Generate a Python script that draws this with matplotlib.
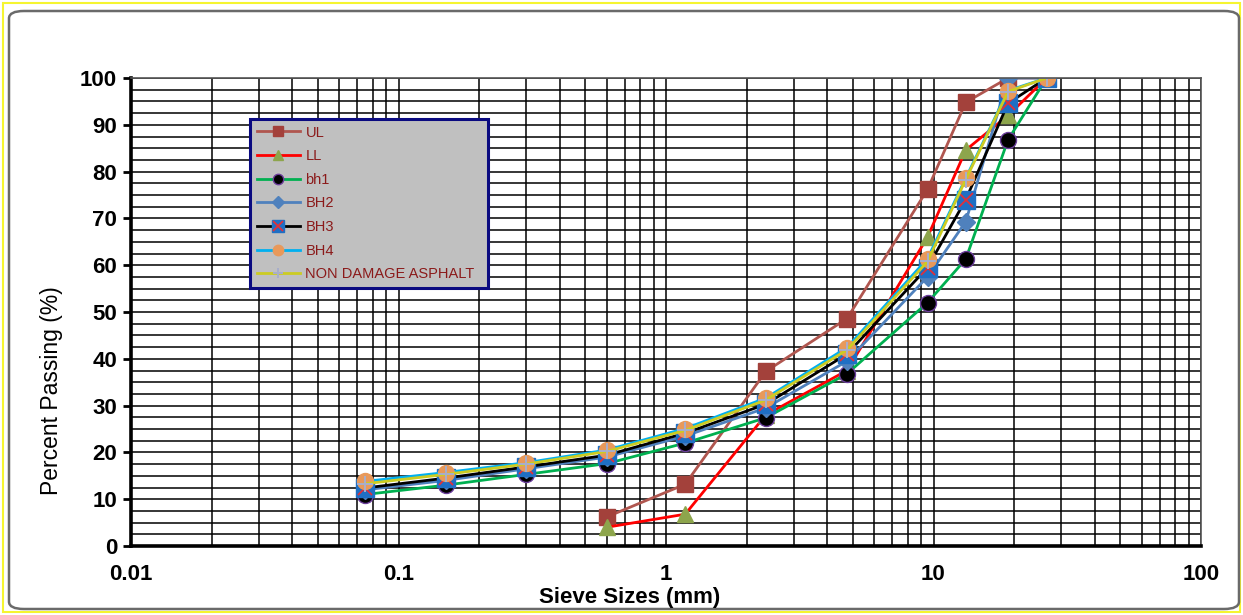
import matplotlib
matplotlib.use("Agg")
import matplotlib.pyplot as plt
from matplotlib.ticker import MultipleLocator, FixedLocator, LogLocator, NullFormatter
from matplotlib.patches import FancyBboxPatch, Rectangle
from matplotlib.legend_handler import HandlerTuple

# Sieve sizes (mm) and percent passing for each gradation
sieve_mm = [0.075, 0.15, 0.3, 0.6, 1.18, 2.36, 4.75, 9.5, 13.2, 19.0, 26.5]
spec_sieves = [0.6, 1.18, 2.36, 4.75, 9.5, 13.2, 19.0, 26.5]

ul = [6.2, 13.2, 37.3, 48.6, 76.2, 94.8, 100.0, 100.0]
ll = [4.0, 6.8, 28.0, 37.5, 66.0, 84.6, 92.0, 100.0]
bh1 = [11.0, 13.0, 15.3, 17.6, 22.0, 27.4, 36.8, 52.0, 61.3, 86.8, 100.0]
bh2 = [12.0, 14.0, 16.5, 19.0, 23.5, 29.5, 39.5, 57.5, 69.3, 100.0, 100.0]
bh3 = [12.4, 14.5, 16.9, 19.4, 24.1, 30.3, 41.0, 59.5, 74.0, 94.6, 100.0]
bh4 = [13.8, 15.7, 17.8, 20.5, 25.1, 31.6, 42.4, 61.4, 78.6, 97.3, 100.0]
non_damage = [13.3, 15.3, 17.5, 20.2, 24.7, 31.2, 41.9, 60.8, 78.3, 97.1, 100.0]

x_tick_values = [0.01, 0.1, 1, 10, 100]
x_tick_labels = ["0.01", "0.1", "1", "10", "100"]
y_tick_values = list(range(0, 101, 10))

W, H = 1243, 615
fig = plt.figure(figsize=(W / 100, H / 100), dpi=100)
fig.patch.set_facecolor("white")

# outer yellow edge and rounded chart frame
fig.patches.append(Rectangle((3 / W, 3 / H), 1 - 6 / W, 1 - 6 / H, transform=fig.transFigure,
                             fill=False, edgecolor="#F5F530", lw=1.5))
fig.patches.append(FancyBboxPatch((9 / W, 6 / H), 1 - 13 / W, 1 - 17 / H,
                                  boxstyle="round,pad=0,rounding_size=0.012",
                                  transform=fig.transFigure, fill=False,
                                  edgecolor="#6A6A6A", lw=1.8))

left, right, top, bottom = 131, 1201, 78, 546
ax = fig.add_axes([left / W, 1 - bottom / H, (right - left) / W, (bottom - top) / H])

ax.set_xscale("log")
ax.set_xlim(0.01, 100)
ax.set_ylim(0, 100)

ax.xaxis.set_major_locator(FixedLocator(x_tick_values))
ax.set_xticklabels(x_tick_labels)
ax.xaxis.set_minor_locator(LogLocator(base=10, subs=range(2, 10)))
ax.xaxis.set_minor_formatter(NullFormatter())
ax.yaxis.set_major_locator(FixedLocator(y_tick_values))
ax.yaxis.set_minor_locator(MultipleLocator(2.5))

ax.grid(which="both", axis="both", color="black", lw=1.1)
ax.set_axisbelow(True)

for lab in ax.get_xticklabels() + ax.get_yticklabels():
    lab.set_fontfamily("Liberation Sans")
    lab.set_fontweight("bold")
    lab.set_fontsize(16)
ax.tick_params(axis="x", which="both", length=0, pad=13)
ax.tick_params(axis="y", which="major", length=6, width=2, pad=4, direction="out")
ax.tick_params(axis="y", which="minor", length=0)

for side in ("left", "bottom"):
    ax.spines[side].set_linewidth(2.6)
    ax.spines[side].set_color("black")
for side in ("top", "right"):
    ax.spines[side].set_linewidth(1.2)
    ax.spines[side].set_color("#555555")

lw = 2.0
h_ul, = ax.plot(spec_sieves, ul, color="#B0564F", lw=lw, marker="s", ms=11.5,
                mfc="#A3413B", mec="#A3413B", label="UL")
h_ll, = ax.plot(spec_sieves, ll, color="#FF0000", lw=lw, marker="^", ms=12,
                mfc="#8DA54C", mec="#8DA54C", label="LL")
h_bh1, = ax.plot(sieve_mm, bh1, color="#00B050", lw=lw, marker="o", ms=11.5,
                 mfc="black", mec="#6A3D9A", mew=1.0, label="bh1")
h_bh2, = ax.plot(sieve_mm, bh2, color="#4F81BD", lw=lw, marker="D", ms=9,
                 mfc="#4F81BD", mec="#4F81BD", label="BH2")
h_bh3, = ax.plot(sieve_mm, bh3, color="black", lw=lw, marker="s", ms=12.5,
                 mfc="#1F6FC4", mec="#1F6FC4", label="BH3")
h_bh3x, = ax.plot(sieve_mm, bh3, ls="none", marker="x", ms=10, mec="#E0303A", mew=1.3)
h_bh4, = ax.plot(sieve_mm, bh4, color="#00B0F0", lw=lw, marker="o", ms=11.5,
                 mfc="#E8995A", mec="#E8995A", label="BH4")
h_nd, = ax.plot(sieve_mm, non_damage, color="#CCCC22", lw=lw, marker="+", ms=12,
                mec="#A8AECB", mew=1.4, label="NON DAMAGE ASPHALT")

handles = [h_ul, h_ll, h_bh1, h_bh2, (h_bh3, h_bh3x), h_bh4, h_nd]
labels = ["UL", "LL", "bh1", "BH2", "BH3", "BH4", "NON DAMAGE ASPHALT"]
x0 = (250 - left) / (right - left)
y1 = (bottom - 119) / (bottom - top)
y0 = (bottom - 290) / (bottom - top)
leg = ax.legend(handles, labels, loc="upper left",
                bbox_to_anchor=(x0, y0, (488 - 250) / (right - left), y1 - y0),
                mode="expand", borderaxespad=0, fancybox=False, framealpha=1,
                facecolor="#C0C0C0", edgecolor="#0A0A80", handlelength=3.0,
                handletextpad=0.35, labelspacing=0.66, borderpad=0.45,
                prop=dict(family="Liberation Sans", size=10.5),
                handler_map={tuple: HandlerTuple(ndivide=1, pad=0)},
                markerscale=0.65)
leg.get_frame().set_linewidth(2.2)
for t in leg.get_texts():
    t.set_color("#8B1A1A")

fig.text(630 / W, 1 - 597 / H, "Sieve Sizes (mm)", ha="center", va="center",
         family="Liberation Sans", weight="bold", size=16)
fig.text(52 / W, 1 - 391 / H, "Percent Passing (%)", ha="center", va="center",
         rotation=90, family="Liberation Sans", size=16.5)

fig.savefig("out.png", dpi=100)
